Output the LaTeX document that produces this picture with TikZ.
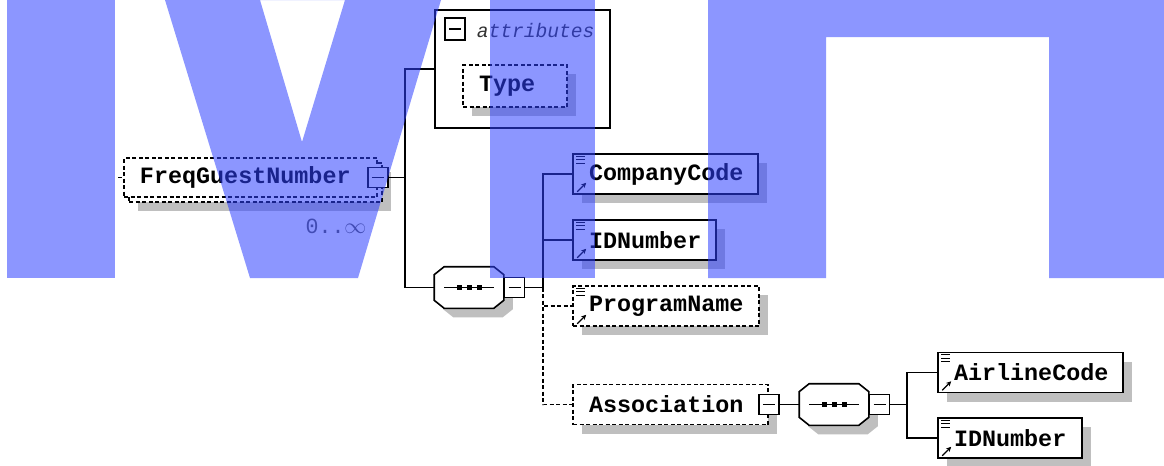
\documentclass[tikz,border=0pt]{standalone}
\usepackage{fontspec}
\usepackage{xcolor}
\usepackage{tikz}
\usetikzlibrary{shadows,arrows.meta}

\newfontfamily\diagmono{Liberation Mono}
\definecolor{wmblue}{RGB}{46,64,255}

% list marks and reference arrow in the corner of an element box
\newcommand{\elemmarks}[1]{%
  \foreach \k in {0,1,2}
    \draw[line width=0.5pt] ([xshift=2pt,yshift={-1.5pt-1.75pt*\k}]#1.north west) -- ++(4.5pt,0);
  \draw[line width=0.6pt,-{Stealth[length=2.5pt,width=2.5pt]}] ([xshift=2.5pt,yshift=1.5pt]#1.south west) -- ++(4.5pt,4.5pt);
}

% octagon outline of a sequence compositor
\newcommand{\seqpath}[1]{([xshift=5pt]#1.north west) -- ([xshift=-5pt]#1.north east) -- ([yshift=-4pt]#1.north east)
  -- ([yshift=4pt]#1.south east) -- ([xshift=-5pt]#1.south east) -- ([xshift=5pt]#1.south west)
  -- ([yshift=4pt]#1.south west) -- ([yshift=-4pt]#1.north west) -- cycle}
\newcommand{\seqdraw}[1]{%
  \fill[black!25, transform canvas={shift={(4.5pt,-4.5pt)}}] \seqpath{#1};
  \filldraw[fill=white] \seqpath{#1};
  \draw ([xshift=5pt]#1.west) -- ([xshift=-5pt]#1.east);
  \foreach \d in {-5,0,5}
    \fill ([xshift=\d pt]#1.center) ++(-1.25pt,-1.25pt) rectangle ++(2.5pt,2.5pt);
}

\begin{document}
\begin{tikzpicture}[x=0.5pt, y=-0.5pt, line width=0.8pt,
    optline/.style={dash pattern=on 2pt off 1.25pt},
    boxshadow/.style={drop shadow={shadow xshift=4.5pt, shadow yshift=-4.5pt, fill=black!25, opacity=1}},
    elembase/.style={draw, fill=white, minimum height=20pt, inner xsep=8pt, inner ysep=0pt, align=left,
        font=\diagmono\fontsize{11.7}{14}\selectfont\bfseries},
    elem/.style={elembase, boxshadow},
    optelem/.style={elem, optline},
    expander/.style={draw, fill=white, minimum size=10pt, inner sep=0pt,
        path picture={\draw (path picture bounding box.west) ++(2pt,0) -- ++(6pt,0);}},
    seqbox/.style={minimum width=34pt, minimum height=20pt, inner sep=0pt}]
    \useasboundingbox (0,0) rectangle (1164,466);

    % Root element (0..unbounded)
    \node[elembase, optline, boxshadow, minimum width=126.5pt, minimum height=19.5pt] (freqBack) at (255.5,182.5) {};
    \node[elembase, optline, text width=110.5pt, minimum height=19.5pt] (freq) at (250.5,177.5) {FreqGuestNumber};
    \node[expander] (freqMinus) at (freq.east) {};
    \node[font=\diagmono\fontsize{10.8}{12}\selectfont, text=black!65] (freqOcc) at (336,226) {0..$\infty$};
    \coordinate (freqIn) at (118,177.5);
    \coordinate (j1) at (405,177.5);
    \draw[optline] (freqIn) -- (freq.west);

    % Attributes
    \node[draw, fill=white, minimum width=87.5pt, minimum height=59pt, inner sep=0pt] (attrs) at (522.5,69) {};
    \node[expander, minimum height=11pt] (attrMinus) at (455,29) {};
    \node[anchor=west, inner sep=0pt, text=black!80, font=\diagmono\fontsize{9.8}{12}\selectfont\itshape] (attrLabel) at (476,30) {attributes};
    \node[optelem, text width=36pt, minimum height=21pt] (type) at (515,86) {Type};

    % First sequence
    \node[seqbox] (seq1) at (469,287.5) {};
    \seqdraw{seq1}
    \node[expander, anchor=west] (seq1Minus) at (seq1.east) {};
    \coordinate (j2) at (543,287.5);

    \draw (freqMinus) -- (j1);
    \draw (attrs.west) -| (j1);
    \draw (j1) |- (seq1.west);
    \draw (seq1Minus) -- (j2);

    % Children of the first sequence
    \node[elem, text width=76.5pt] (cc) at (665.5,174) {CompanyCode};
    \node[elem, text width=55.5pt] (idn) at (644.5,240) {IDNumber};
    \node[optelem, text width=77pt] (prog) at (666,306) {ProgramName};
    \node[optelem, text width=81.5pt] (assoc) at (670.5,404.5) {Association};
    \node[expander] (assocMinus) at (assoc.east) {};
    \elemmarks{cc}
    \elemmarks{idn}
    \elemmarks{prog}

    \draw (cc.west) -| (j2);
    \draw (idn.west) -- (idn.west -| j2);
    \draw[optline] (j2) |- (prog.west);
    \draw[optline] (j2) |- (assoc.west);

    % Second sequence
    \node[seqbox] (seq2) at (834,404.5) {};
    \seqdraw{seq2}
    \node[expander, anchor=west] (seq2Minus) at (seq2.east) {};
    \coordinate (j3) at (907,404.5);
    \draw (assocMinus) -- (seq2);
    \draw (seq2Minus) -- (j3);

    \node[elem, text width=76.5pt] (air) at (1030.5,372.5) {AirlineCode};
    \node[elem, text width=56pt] (idn2) at (1010,438) {IDNumber};
    \elemmarks{air}
    \elemmarks{idn2}
    \draw (air.west) -| (j3);
    \draw (j3) |- (idn2.west);

    % Watermark
    \fill[wmblue, fill opacity=0.55] (7,0) rectangle (115,278);
    \fill[wmblue, fill opacity=0.55, even odd rule] (165,0) -- (441,0) -- (358,278) -- (250,278) -- cycle
        (260,0) -- (345,0) -- (302,142) -- cycle;
    \fill[wmblue, fill opacity=0.55] (490,0) rectangle (595,278);
    \fill[wmblue, fill opacity=0.55] (708,0) -- (1164,0) -- (1164,278) -- (1049,278) -- (1049,37)
        -- (826,37) -- (826,278) -- (708,278) -- cycle;
\end{tikzpicture}
\end{document}
